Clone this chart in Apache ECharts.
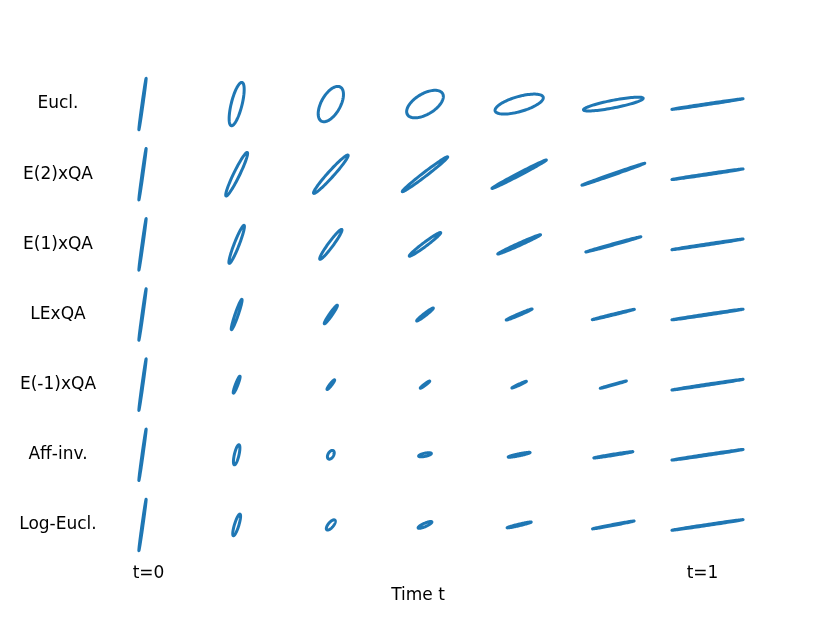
<!DOCTYPE html>
<html>
<head>
<meta charset="utf-8">
<script src="https://cdn.jsdelivr.net/npm/echarts@6/dist/echarts.min.js"></script>
<style>
  html, body { margin: 0; background: #fff; }
  #chart { width: 830px; height: 623px; }
</style>
</head>
<body>
<div id="chart"></div>
<script>
  // interpolation methods, top to bottom
  var methods = ['Eucl.', 'E(2)xQA', 'E(1)xQA', 'LExQA', 'E(-1)xQA', 'Aff-inv.', 'Log-Eucl.'];
  // time steps of the geodesic
  var times = [0, 1/6, 2/6, 3/6, 4/6, 5/6, 1];

  // semi major axis of each ellipse (one row per method, one column per time step)
  var majorAxis = [
    [26, 22.3, 19.5, 20.5, 25, 30.4, 36],
    [26, 24.2, 25.7, 28.6, 30.7, 33.3, 36],
    [26, 20.4, 18.5, 19.6, 23.5, 28.6, 36],
    [26, 16, 11.3, 10.5, 14.1, 21.7, 36],
    [26, 9.1, 6.1, 5.9, 8, 13.6, 36],
    [26, 10.3, 4.8, 6.5, 11.2, 19.8, 36],
    [26, 11.3, 6.3, 7.5, 12.4, 21.2, 36]
  ];
  // semi minor axis
  var minorAxis = [
    [0.5, 5.4, 9.6, 10.3, 7.5, 3.8, 0.5],
    [0.5, 3, 3, 2, 1.3, 0.7, 0.5],
    [0.5, 2.5, 2.5, 2, 1.2, 0.6, 0.5],
    [0.5, 1.6, 1.4, 1.2, 0.8, 0.5, 0.5],
    [0.5, 1.2, 1, 0.8, 0.6, 0.4, 0.5],
    [0.5, 2.3, 2.8, 1.6, 1, 0.6, 0.5],
    [0.5, 2.2, 2.6, 1.7, 0.8, 0.5, 0.5]
  ];
  // angle of the major axis, degrees
  var angleDeg = [
    [82, 76, 61, 31, 16, 11, 8.5],
    [82, 64, 48, 37.5, 27.6, 19.2, 8.5],
    [82, 68.7, 53.6, 36.8, 24.3, 15.5, 8.5],
    [82, 71, 55, 37.7, 23, 13.8, 8.5],
    [82, 69, 52, 37, 24.7, 15.6, 8.5],
    [82, 77, 60, 12, 11.6, 9.1, 8.5],
    [82, 73, 50, 24, 13.3, 10.7, 8.5]
  ];

  var ellipses = [];
  for (var i = 0; i < methods.length; i++) {
    for (var j = 0; j < times.length; j++) {
      ellipses.push([times[j], i, majorAxis[i][j], minorAxis[i][j], angleDeg[i][j]]);
    }
  }

  function renderEllipse(params, api) {
    var c = api.coord([api.value(0), api.value(1)]);
    var a = api.value(2), b = api.value(3);
    var th = api.value(4) * Math.PI / 180;
    var pts = [];
    for (var k = 0; k < 90; k++) {
      var phi = k / 90 * 2 * Math.PI;
      var ex = a * Math.cos(phi), ey = b * Math.sin(phi);
      pts.push([
        c[0] + ex * Math.cos(th) - ey * Math.sin(th),
        c[1] - (ex * Math.sin(th) + ey * Math.cos(th))
      ]);
    }
    return {
      type: 'polygon',
      shape: { points: pts },
      style: { fill: 'none', stroke: '#1f77b4', lineWidth: 3, lineJoin: 'round' }
    };
  }

  var chart = echarts.init(document.getElementById('chart'));
  var option = {
    animation: false,
    backgroundColor: '#fff',
    textStyle: { fontFamily: 'DejaVu Sans' },
    grid: { left: 142.5, right: 122.5, top: 69, bottom: 63 },
    xAxis: {
      type: 'value',
      min: 0,
      max: 1,
      interval: 1,
      axisLine: { show: false },
      axisTick: { show: false },
      splitLine: { show: false },
      axisLabel: {
        margin: 5,
        fontSize: 17,
        color: '#000',
        formatter: function (v) {
          return v === 0 ? '{l|t=0}' : '{r|t=1}';
        },
        rich: {
          l: { fontSize: 17, color: '#000', padding: [0, 0, 0, 12] },
          r: { fontSize: 17, color: '#000', padding: [0, 10, 0, 0] }
        }
      },
      name: 'Time t',
      nameLocation: 'middle',
      nameGap: 16,
      nameTextStyle: { fontSize: 17, color: '#000', padding: [0, 14, 0, 0] }
    },
    yAxis: {
      type: 'category',
      data: methods,
      inverse: true,
      axisLine: { show: false },
      axisTick: { show: false },
      splitLine: { show: false },
      axisLabel: { align: 'center', margin: 84.5, fontSize: 17, color: '#000' }
    },
    series: [{
      type: 'custom',
      renderItem: renderEllipse,
      data: ellipses,
      clip: false
    }]
  };
  chart.setOption(option);
</script>
</body>
</html>
